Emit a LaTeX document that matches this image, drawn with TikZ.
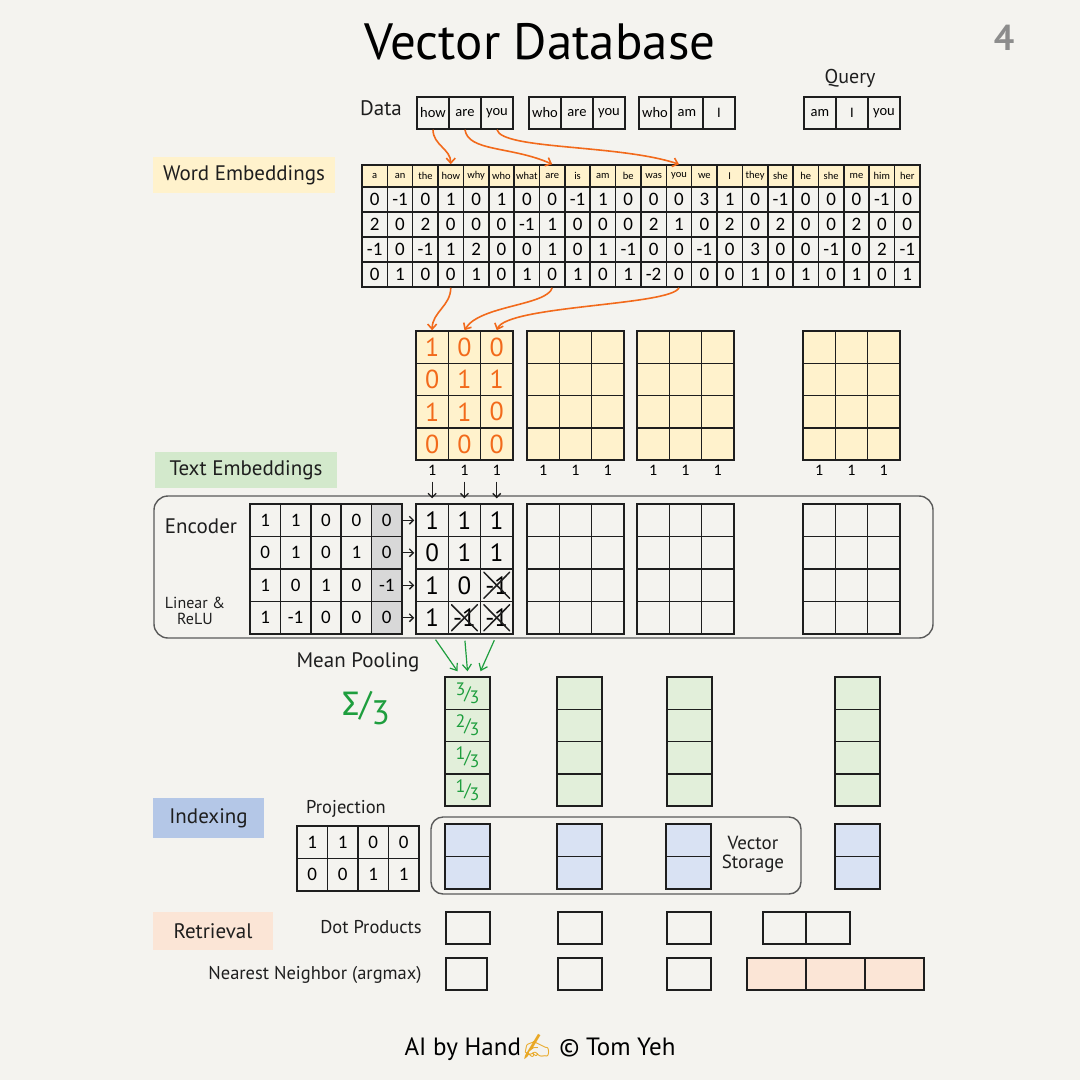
\documentclass[tikz,border=0pt]{standalone}
\usepackage{fontspec}
\setmainfont{PT Sans}
\newfontfamily\gridfont{Carlito}
\newfontfamily\sigmafont{Fira Sans}
\newfontfamily\emojifont{Noto Emoji}
\usetikzlibrary{arrows.meta,calc,positioning}
\definecolor{Sheet}{HTML}{F4F3EF}
\definecolor{Ink}{HTML}{1E1E1E}
\definecolor{Butter}{HTML}{FFF2CC}
\definecolor{Sage}{HTML}{D3E9CC}
\definecolor{Mint}{HTML}{E2EFDA}
\definecolor{Sky}{HTML}{B4C7E7}
\definecolor{Ice}{HTML}{D9E2F3}
\definecolor{Peach}{HTML}{FBE5D6}
\definecolor{Ember}{HTML}{F26A1B}
\definecolor{Leaf}{HTML}{1E9E3E}
\definecolor{Frame}{HTML}{5A5A5A}
\definecolor{Shade}{HTML}{D8D8D8}
\definecolor{Pencil}{HTML}{8C8C8C}
\definecolor{Honey}{HTML}{E9A825}
\newcommand{\fsz}[1]{\fontsize{#1}{#1}\selectfont}
\tikzset{
  gcell/.style={
    draw=Ink, line width=1.5pt, inner sep=0pt, font=\gridfont\fsz{19}
  },
  wordcell/.style={gcell, minimum width=25.36pt, minimum height=25pt},
  headcell/.style={
    wordcell, minimum height=22pt, fill=Butter, font=\gridfont\fsz{10.5}
  },
  datacell/.style={
    gcell, minimum width=32pt, minimum height=32pt, font=\gridfont\fsz{14.5}
  },
  incell/.style={
    gcell, minimum width=32.3pt, minimum height=32.3pt, fill=Butter,
    text=Ember, font=\fsz{26}
  },
  outcell/.style={
    gcell, minimum width=32.3pt, minimum height=32.5pt, font=\fsz{25}
  },
  enccell/.style={gcell, minimum width=30.4pt, minimum height=32.5pt},
  projcell/.style={gcell, minimum width=30.5pt, minimum height=32.5pt},
  meancell/.style={
    gcell, minimum width=45pt, minimum height=32.25pt, fill=Mint,
    text=Leaf, font=\fsz{18}
  },
  storecell/.style={gcell, minimum width=45pt, minimum height=32.5pt, fill=Ice},
  scorecell/.style={gcell, minimum width=44pt, minimum height=32pt},
  note/.style={font=\fsz{19}, text=Ink, inner sep=1pt},
  tagbox/.style={note, font=\fsz{21}, minimum height=36pt},
  frame/.style={draw=Frame, line width=1.4pt, rounded corners=14pt},
  inkflow/.style={-{Straight Barb[length=4pt,width=8pt]}, line width=1.3pt, draw=Ink},
  emberflow/.style={-{Straight Barb[length=5pt,width=9pt]}, line width=1.6pt, draw=Ember},
  leafflow/.style={-{Straight Barb[length=6pt,width=9pt]}, line width=1.2pt, draw=Leaf},
  strike/.style={line width=1.5pt, draw=Ink, line cap=round}
}

\begin{document}
\begin{tikzpicture}[x=1pt,y=-1pt]
  \fill[Sheet] (0,0) rectangle (1080,1080);
  \node[font=\fsz{51}] (title) at (540,42) {Vector Database};
  \node[font=\bfseries\fsz{36}, text=Pencil] (pagenum) at (1004,38) {4};

  % data and query
  \foreach \w [count=\c from 0] in {how,are,you}
    \node[datacell] (d1-\c) at ({417+32*(\c+0.5)},113) {\w};
  \foreach \w [count=\c from 0] in {who,are,you}
    \node[datacell] (d2-\c) at ({529+32*(\c+0.5)},113) {\w};
  \foreach \w [count=\c from 0] in {who,am,I}
    \node[datacell] (d3-\c) at ({639+32*(\c+0.5)},113) {\w};
  \foreach \w [count=\c from 0] in {am,I,you}
    \node[datacell] (d4-\c) at ({804+32*(\c+0.5)},113) {\w};
  \node[note, font=\fsz{21}] (datalbl) at (381,108) {Data};
  \node[note, font=\fsz{20}] (querylbl) at (850,78) {Query};

  % word embeddings
  \node[tagbox, fill=Butter, minimum width=182pt] (wordtag) at (244,175) {Word Embeddings};
  \foreach \w [count=\c from 0] in {a,an,the,how,why,who,what,are,is,am,be,was,you,we,I,they,she,he,she,me,him,her}
    \node[headcell] (h\c) at ({362+25.36*(\c+0.5)},176) {\w};
  \foreach \row [count=\r from 0] in {
      {0,-1,0,1,0,1,0,0,-1,1,0,0,0,3,1,0,-1,0,0,0,-1,0},
      {2,0,2,0,0,0,-1,1,0,0,0,2,1,0,2,0,2,0,0,2,0,0},
      {-1,0,-1,1,2,0,0,1,0,1,-1,0,0,-1,0,3,0,0,-1,0,2,-1},
      {0,1,0,0,1,0,1,0,1,0,1,-2,0,0,0,1,0,1,0,1,0,1}}
    \foreach \v [count=\c from 0] in \row
      \node[wordcell] (we\r-\c) at ({362+25.36*(\c+0.5)},{199.5+25*\r}) {\v};
  \draw[emberflow] (d1-0.south) to[out=-90,in=90] (h3.north);
  \draw[emberflow] (d1-1.south) .. controls +(3,22) and +(-40,-18) .. (h7.north);
  \draw[emberflow] (d1-2.south) .. controls +(5,20) and +(-60,-20) .. (h12.north);

  % text embeddings
  \node[tagbox, fill=Sage, minimum width=182pt] (texttag) at (246,470) {Text Embeddings};
  \foreach \row [count=\r from 0] in {{1,0,0},{0,1,1},{1,1,0},{0,0,0}}
    \foreach \v [count=\c from 0] in \row
      \node[incell] (in1-\r-\c) at ({416+32.3*(\c+0.5)},{331+32.3*(\r+0.5)}) {\v};
  \foreach \g/\x in {2/527,3/637,4/803}
    \foreach \r in {0,...,3}
      \foreach \c in {0,1,2}
        \node[incell] (in\g-\r-\c) at ({\x+32.3*(\c+0.5)},{331+32.3*(\r+0.5)}) {};
  \foreach \g/\x in {1/416,2/527,3/637,4/803}
    \foreach \c in {0,1,2}
      \node[font=\gridfont\fsz{16}] (one\g-\c) at ({\x+32.3*(\c+0.5)},470) {1};
  \draw[emberflow] (we3-3.south) to[out=-90,in=90] (in1-0-0.north);
  \draw[emberflow] (we3-7.south) .. controls +(-5,18) and +(15,-25) .. (in1-0-1.north);
  \draw[emberflow] (we3-12.south) .. controls +(-8,18) and +(10,-25) .. (in1-0-2.north);

  % encoder
  \draw[frame] (154,496) rectangle (933,638);
  \node[note, font=\fsz{21}] (enclbl) at (201,526) {Encoder};
  \node[note, font=\fsz{16}, align=center] (relulbl) at (195,611) {Linear \&\\ReLU};
  \foreach \row [count=\r from 0] in {{1,1,0,0,0},{0,1,0,1,0},{1,0,1,0,-1},{1,-1,0,0,0}}
    \foreach \v [count=\c from 0] in \row {
      \ifnum\c=4 \def\encfill{Shade}\else\def\encfill{Sheet}\fi
      \node[enccell, fill=\encfill] (enc\r-\c) at ({250+30.4*(\c+0.5)},{504+32.5*(\r+0.5)}) {\v};
    }
  \foreach \row [count=\r from 0] in {{1,1,1},{0,1,1},{1,0,-1},{1,-1,-1}}
    \foreach \v [count=\c from 0] in \row
      \node[outcell] (out1-\r-\c) at ({416+32.3*(\c+0.5)},{504+32.5*(\r+0.5)}) {\v};
  \foreach \g/\x in {2/527,3/637,4/803}
    \foreach \r in {0,...,3}
      \foreach \c in {0,1,2}
        \node[outcell] (out\g-\r-\c) at ({\x+32.3*(\c+0.5)},{504+32.5*(\r+0.5)}) {};
  \foreach \n in {out1-2-2,out1-3-1,out1-3-2} {
    \draw[strike] ($(\n.north west)+(4,4)$) -- ($(\n.south east)+(-4,-4)$);
    \draw[strike] ($(\n.north east)+(-4,4)$) -- ($(\n.south west)+(4,-4)$);
  }
  \foreach \c in {0,1,2}
    \draw[inkflow, shorten <=3pt, shorten >=5pt] (one1-\c.south) -- (out1-0-\c.north);
  \foreach \r in {0,...,3}
    \draw[inkflow, shorten >=1pt] (enc\r-4.east) -- (out1-\r-0.west);

  % mean pooling
  \node[note, font=\fsz{21}] (poollbl) at (358,662) {Mean Pooling};
  \node[text=Leaf, font=\fsz{34}] (sigma) at (366,708) {{\sigmafont Σ}/\raisebox{-9pt}{3}};
  \foreach \n [count=\r from 0] in {3,2,1,1}
    \node[meancell] (mv1-\r) at (467.5,{677+32.25*(\r+0.5)})
      {\raisebox{4pt}{\n}\kern-1pt/\kern-1pt\raisebox{-4pt}{3}};
  \foreach \g/\x in {2/557,3/667,4/835}
    \foreach \r in {0,...,3}
      \node[meancell] (mv\g-\r) at ({\x+22.5},{677+32.25*(\r+0.5)}) {};
  \draw[leafflow, shorten <=6pt] (out1-3-0.south) -- ($(mv1-0.north)+(-10,-5)$);
  \draw[leafflow, shorten <=6pt] (out1-3-1.south) -- ($(mv1-0.north)+(0,-5)$);
  \draw[leafflow, shorten <=6pt] (out1-3-2.south) -- ($(mv1-0.north)+(13,-5)$);

  % indexing
  \node[tagbox, fill=Sky, minimum width=111pt, minimum height=40pt] (indextag) at (208.5,818) {Indexing};
  \node[note, font=\fsz{18.5}] (projlbl) at (346,809) {Projection};
  \foreach \row [count=\r from 0] in {{1,1,0,0},{0,0,1,1}}
    \foreach \v [count=\c from 0] in \row
      \node[projcell] (proj\r-\c) at ({297+30.5*(\c+0.5)},{826+32.5*(\r+0.5)}) {\v};
  \draw[frame, rounded corners=12pt] (431,817) rectangle (801,894);
  \foreach \g/\x in {1/445,2/557,3/666,4/835}
    \foreach \r in {0,1}
      \node[storecell] (bv\g-\r) at ({\x+22.5},{824+32.5*(\r+0.5)}) {};
  \node[note, font=\fsz{19}, align=center] (storelbl) at (753,854) {Vector\\Storage};

  % retrieval
  \node[tagbox, fill=Peach, minimum width=120pt, minimum height=38pt] (retrievetag) at (213,931) {Retrieval};
  \node[note, font=\fsz{18.5}] (dotlbl) at (371,927) {Dot Products};
  \node[note, font=\fsz{18.5}] (nnlbl) at (315,975) {Nearest Neighbor (argmax)};
  \node[scorecell] (dp1) at (468,928) {};
  \node[scorecell] (dp2) at (580,928) {};
  \node[scorecell] (dp3) at (689,928) {};
  \node[scorecell, minimum width=43pt] (dp4-0) at (784.5,928) {};
  \node[scorecell] (dp4-1) at (828,928) {};
  \node[scorecell, minimum width=41pt] (nn1) at (466.5,974) {};
  \node[scorecell] (nn2) at (580,974) {};
  \node[scorecell] (nn3) at (689,974) {};
  \foreach \c in {0,1,2}
    \node[scorecell, minimum width=59pt, fill=Peach] (nn4-\c) at ({776.5+59*\c},974) {};

  \node[font=\fsz{25}] (credit) at (540,1047)
    {AI by Hand{\emojifont\textcolor{Honey}{✍}} © Tom Yeh};
\end{tikzpicture}
\end{document}
